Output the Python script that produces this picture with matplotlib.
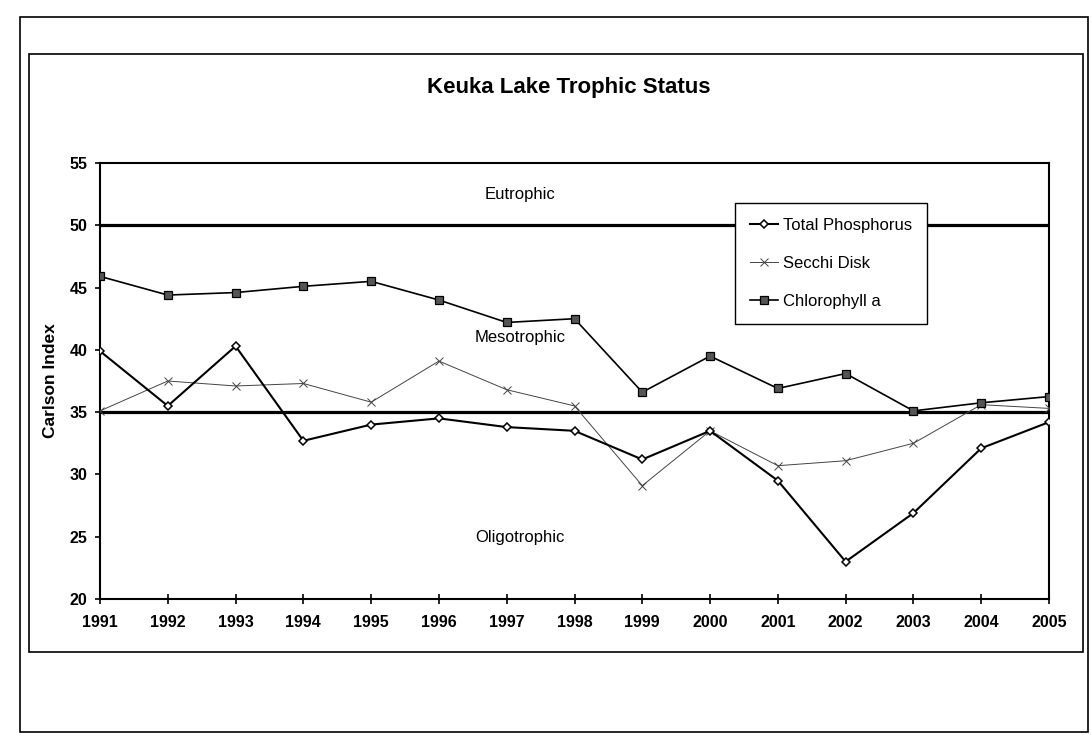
import matplotlib
matplotlib.use("Agg")
import matplotlib.pyplot as plt
from matplotlib.patches import Rectangle

plt.rcParams["font.family"] = ["Liberation Sans", "DejaVu Sans"]

# ── data ──────────────────────────────────────────────────────────────────────
years = list(range(1991, 2006))
total_phosphorus = [39.9, 35.5, 40.3, 32.7, 34.0, 34.5, 33.8, 33.5, 31.2, 33.5,
                    29.5, 23.0, 26.9, 32.1, 34.2]
secchi_disk = [35.1, 37.5, 37.1, 37.3, 35.8, 39.1, 36.8, 35.5, 29.1, 33.5,
               30.7, 31.1, 32.5, 35.6, 35.3]
chlorophyll_a = [45.9, 44.4, 44.6, 45.1, 45.5, 44.0, 42.2, 42.5, 36.6, 39.5,
                 36.9, 38.1, 35.1, 35.75, 36.25]
boundaries = [50, 35]
zones = ["Eutrophic", "Mesotrophic", "Oligotrophic"]
zone_y = [52.5, 41.0, 24.9]
y_ticks = [20, 25, 30, 35, 40, 45, 50, 55]

W, H = 1092, 743
fig = plt.figure(figsize=(W / 100, H / 100), dpi=100)
fig.patch.set_facecolor("white")


def fx(px):
    return px / W


def fy(py):
    return 1 - py / H


# page + chart-area frames
for l, t, r, b in [(20, 17, 1088, 732), (29, 54, 1083, 652)]:
    fig.patches.append(Rectangle((fx(l), fy(b)), fx(r - l), (b - t) / H,
                                 transform=fig.transFigure, fill=False,
                                 edgecolor="black", lw=1.2))

ax = fig.add_axes([fx(100), fy(599), fx(1049 - 100), (599 - 163) / H])

for v in boundaries:
    ax.axhline(v, color="black", lw=2.3, zorder=2)

ax.plot(years, total_phosphorus, color="black", lw=1.5, marker="D", ms=4.5,
        mfc="white", mec="black", mew=1.1, label="Total Phosphorus", zorder=4)
ax.plot(years, secchi_disk, color="#444444", lw=0.7, marker="x", ms=6,
        mew=0.7, label="Secchi Disk", zorder=3)
ax.plot(years, chlorophyll_a, color="black", lw=1.2, marker="s", ms=5.5,
        mfc="#555555", mec="black", mew=0.9, label="Chlorophyll a", zorder=4)

# zone labels sit a little left of the middle year
mid = (years[0] + years[-1]) / 2 - 0.8
for name, yv in zip(zones, zone_y):
    ax.text(mid, yv, name, ha="center", va="center", fontsize=12)

ax.set_xlim(years[0], years[-1])
ax.set_ylim(y_ticks[0], y_ticks[-1])
ax.set_xticks(years)
ax.set_yticks(y_ticks)
for s in ax.spines.values():
    s.set_linewidth(1.5)
ax.tick_params(axis="y", direction="out", length=3.6, width=1.2, pad=5.5,
               labelsize=11.5)
ax.tick_params(axis="x", direction="inout", length=7, width=1.2, pad=8,
               labelsize=11.5)
for lab in ax.get_xticklabels() + ax.get_yticklabels():
    lab.set_fontweight("bold")
ax.set_ylabel("Carlson Index", fontsize=12.5, fontweight="bold", labelpad=8)

leg = ax.legend(loc="upper left", bbox_to_anchor=(0.669, 0.908), fontsize=12,
                frameon=True, fancybox=False, framealpha=1, edgecolor="black",
                labelspacing=1.37, handlelength=1.7, handletextpad=0.3,
                borderpad=0.9, borderaxespad=0)
leg.get_frame().set_linewidth(1.0)

fig.text(fx(569), fy(87), "Keuka Lake Trophic Status", ha="center",
         va="center", fontsize=16, fontweight="bold")

fig.savefig("out.png", dpi=100, facecolor="white")
